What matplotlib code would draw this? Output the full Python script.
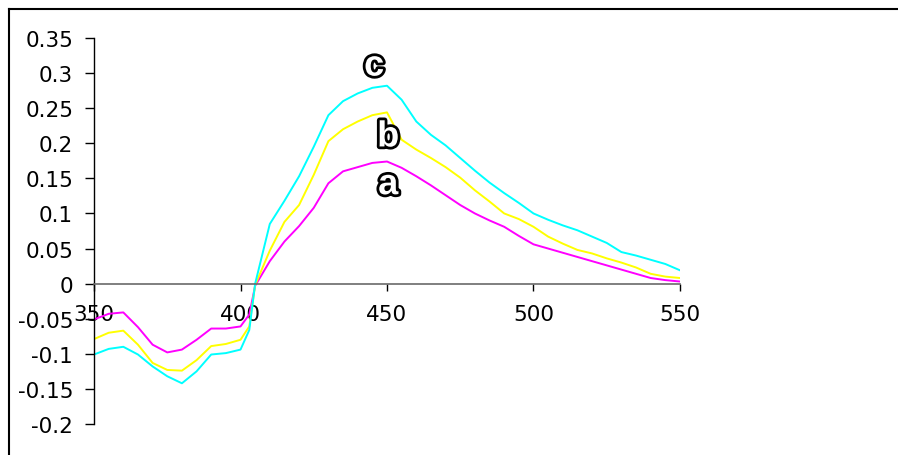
import numpy as np
import matplotlib.pyplot as plt
import matplotlib.patheffects as pe
from matplotlib.lines import Line2D

plt.rcParams['font.family'] = 'sans-serif'
plt.rcParams['font.sans-serif'] = ['DejaVu Sans']

# wavelength (nm)
wl = [350, 355, 360, 365, 370, 375, 380, 385, 390, 395, 400, 403,
      405, 410, 415, 420, 425, 430, 435, 440, 445, 450,
      455, 460, 465, 470, 475, 480, 485, 490, 495, 500,
      505, 510, 515, 520, 525, 530, 535, 540, 545, 550]

# curve a (magenta)
a_vals = [-0.051, -0.043, -0.041, -0.062, -0.087, -0.098, -0.094, -0.080, -0.064, -0.064, -0.061, -0.044,
          -0.003, 0.032, 0.060, 0.082, 0.108, 0.143, 0.160, 0.166, 0.172, 0.174,
          0.165, 0.153, 0.140, 0.126, 0.112, 0.100, 0.090, 0.081, 0.068, 0.056,
          0.050, 0.044, 0.038, 0.032, 0.026, 0.020, 0.014, 0.008, 0.005, 0.003]

# curve b (yellow)
b_vals = [-0.079, -0.070, -0.067, -0.087, -0.113, -0.123, -0.124, -0.109, -0.089, -0.086, -0.080, -0.061,
          -0.002, 0.047, 0.088, 0.112, 0.155, 0.203, 0.220, 0.231, 0.240, 0.244,
          0.205, 0.191, 0.179, 0.166, 0.151, 0.133, 0.117, 0.100, 0.092, 0.081,
          0.067, 0.057, 0.048, 0.043, 0.036, 0.030, 0.023, 0.014, 0.010, 0.008]

# curve c (cyan)
c_vals = [-0.101, -0.093, -0.090, -0.101, -0.118, -0.132, -0.142, -0.125, -0.101, -0.099, -0.094, -0.066,
          0.000, 0.085, 0.118, 0.153, 0.195, 0.240, 0.260, 0.271, 0.279, 0.282,
          0.262, 0.231, 0.212, 0.197, 0.179, 0.161, 0.144, 0.129, 0.115, 0.100,
          0.091, 0.083, 0.076, 0.067, 0.058, 0.045, 0.040, 0.034, 0.028, 0.019]

xticks = [350, 400, 450, 500, 550]
yticks = [-0.2, -0.15, -0.1, -0.05, 0, 0.05, 0.1, 0.15, 0.2, 0.25, 0.3, 0.35]
ytick_labels = ['-0.2', '-0.15', '-0.1', '-0.05', '0', '0.05', '0.1', '0.15', '0.2', '0.25', '0.3', '0.35']

labels = ['a', 'b', 'c']
label_pos = [(450.4, 0.141), (450.4, 0.209), (445.6, 0.310)]

fig = plt.figure(figsize=(8.98, 4.56), dpi=100)
ax = fig.add_axes([0.1047, 0.068, 0.6525, 0.8465])

ax.plot(wl, a_vals, color='#FF00FF', lw=1.4)
ax.plot(wl, b_vals, color='#FFFF00', lw=1.4)
ax.plot(wl, c_vals, color='#00FFFF', lw=1.4)

for lab, (lx, ly) in zip(labels, label_pos):
    ax.text(lx, ly, lab, ha='center', va='center', fontsize=26, fontweight='bold',
            family=['Liberation Sans Narrow', 'Liberation Sans'], color='white',
            path_effects=[pe.withStroke(linewidth=4, foreground='black')])

ax.set_xlim(350, 550)
ax.set_ylim(-0.2, 0.35)
ax.set_xticks(xticks)
ax.set_xticklabels([str(t) for t in xticks])
ax.set_yticks(yticks)
ax.set_yticklabels(ytick_labels)

ax.spines['top'].set_color('none')
ax.spines['right'].set_color('none')
ax.spines['bottom'].set_position(('data', 0))
ax.spines['bottom'].set_color('dimgrey')
ax.spines['bottom'].set_linewidth(1.2)
ax.spines['left'].set_color('black')
ax.spines['left'].set_linewidth(1.0)
ax.tick_params(axis='y', direction='out', length=6.5, width=1, pad=8.5, labelsize=15.5)
ax.tick_params(axis='x', direction='out', length=5, width=1, pad=10, labelsize=15.5)

# outer chart frame (only top and left edges visible)
fig.add_artist(Line2D([9/898, 9/898], [0, 1 - 10/456], transform=fig.transFigure, color='black', lw=1.5))
fig.add_artist(Line2D([9/898, 1], [1 - 10/456, 1 - 10/456], transform=fig.transFigure, color='black', lw=1.5))

fig.savefig('out.png', dpi=100)
